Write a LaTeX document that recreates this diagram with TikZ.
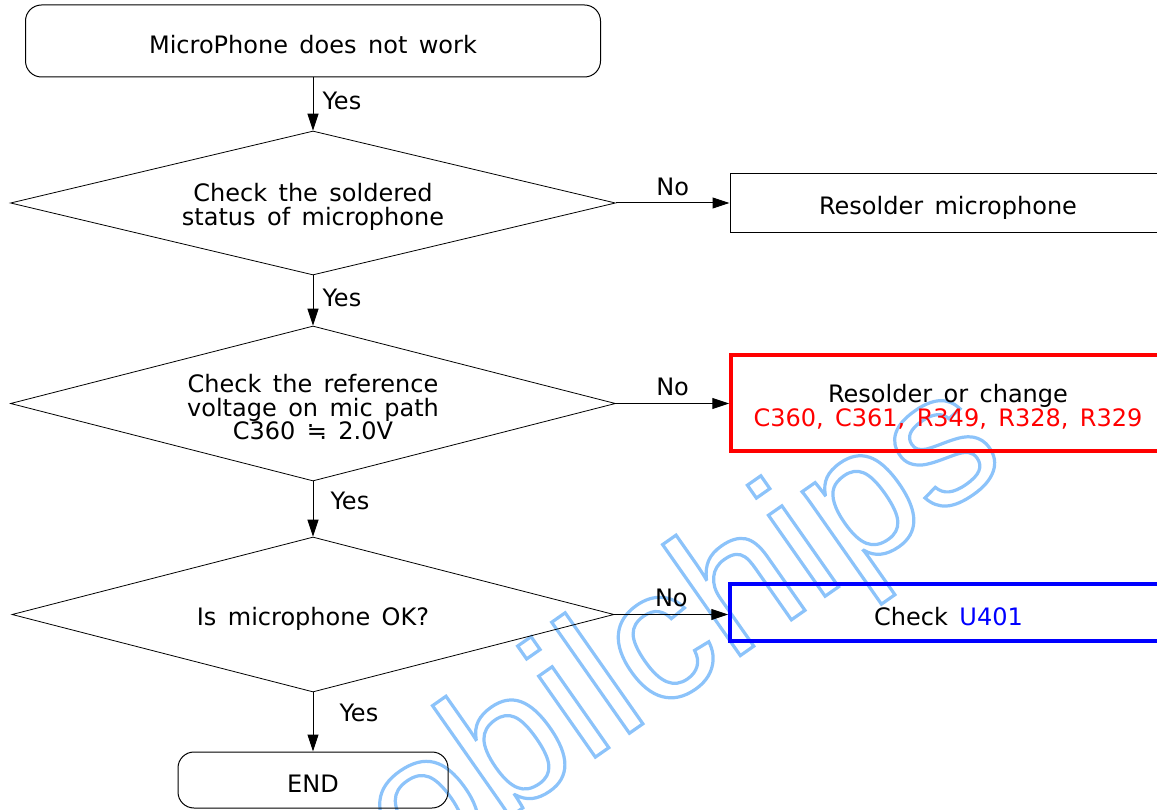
\documentclass[tikz,border=0pt]{standalone}
\usepackage{fontspec}
\setmainfont{DejaVu Sans}[WordSpace=1.5]
\newfontfamily\wmfont{Liberation Sans}
\usetikzlibrary{shapes.geometric,arrows.meta}
\definecolor{wmblue}{RGB}{140,195,250}
\definecolor{pureRed}{RGB}{255,0,0}
\definecolor{pureBlue}{RGB}{0,0,255}
\newcommand{\outlinetext}[1]{\special{pdf:literal direct 1 Tr 3.2 w}#1\special{pdf:literal direct 0 Tr}}
\tikzset{
  txt/.style={font=\fontsize{24}{23.5}\selectfont, align=center, inner sep=0pt},
  termbox/.style={draw=black, line width=1pt, rectangle, rounded corners=16pt},
  decbox/.style={draw=black, line width=0.8pt, diamond, inner sep=0pt},
  actbox/.style={draw=black, line width=1pt, rectangle},
  redbox/.style={actbox, draw=pureRed, line width=3.5pt},
  bluebox/.style={actbox, draw=pureBlue, line width=3.5pt},
  flow/.style={draw=black, line width=1pt, -{Triangle[length=17pt,width=11pt]}},
  lbl/.style={txt},
}
\begin{document}
\begin{tikzpicture}[x=1pt,y=-1pt]
\useasboundingbox (0,0) rectangle (1157,810);
\clip (0,0) rectangle (1157,810);
% watermark
\begin{scope}[shift={(287,973)}]
\node[rotate=35, anchor=base west, inner sep=0pt, text=wmblue, font=\wmfont\fontsize{187}{187}\selectfont] (wm) {\outlinetext{mobilchips}};
\end{scope}
% shapes
\node[termbox, minimum width=575pt, minimum height=72pt] (start) at (313,41) {};
\node[decbox, minimum width=605pt, minimum height=144pt] (d1) at (313,203) {};
\node[decbox, minimum width=605pt, minimum height=155pt] (d2) at (313,403.5) {};
\node[decbox, minimum width=602pt, minimum height=155pt] (d3) at (313,614.5) {};
\node[termbox, minimum width=270pt, minimum height=56pt] (end) at (313,780) {};
\node[actbox, minimum width=436pt, minimum height=59pt] (r1) at (948,203.5) {};
\node[redbox, minimum width=435pt, minimum height=96pt] (r2) at (948.5,403) {};
\node[bluebox, minimum width=436pt, minimum height=57pt] (r3) at (948,612.5) {};
% texts
\node[txt] (startT) at (313,45) {MicroPhone does not work};
\node[txt] (d1T) at (313,207) {Check the soldered\\status of microphone};
\node[txt] (d2T) at (313,407.5) {Check the reference\\voltage on mic path\\C360 ≒ 2.0V};
\node[txt] (d3T) at (313,618.5) {Is microphone OK?};
\node[txt] (endT) at (313,784) {END};
\node[txt] (r1T) at (948,207.5) {Resolder microphone};
\node[txt] (r2T) at (948,407) {Resolder or change\\\textcolor{pureRed}{C360, C361, R349, R328, R329}};
\node[txt] (r3T) at (948.5,616.5) {Check \textcolor{pureBlue}{U401}};
% connectors
\draw[flow] (start) -- (d1) node[lbl, pos=0.45, anchor=west, xshift=9pt] (y1) {Yes};
\draw[flow] (d1) -- (d2) node[lbl, pos=0.45, anchor=west, xshift=9pt] (y2) {Yes};
\draw[flow] (d2) -- (d3) node[lbl, pos=0.35, anchor=west, xshift=17pt] (y3) {Yes};
\draw[flow] (d3) -- (end) node[lbl, pos=0.35, anchor=west, xshift=26pt] (y4) {Yes};
\draw[flow] (d1.east) -- (d1.east -| r1.west) node[lbl, midway, above=7pt] (n1) {No};
\draw[flow] (d2.east) -- (d2.east -| r2.west) node[lbl, midway, above=7pt] (n2) {No};
\draw[flow] (d3.east) -- (d3.east -| r3.west) node[lbl, midway, above=7pt] (n3) {No};
\end{tikzpicture}
\end{document}
